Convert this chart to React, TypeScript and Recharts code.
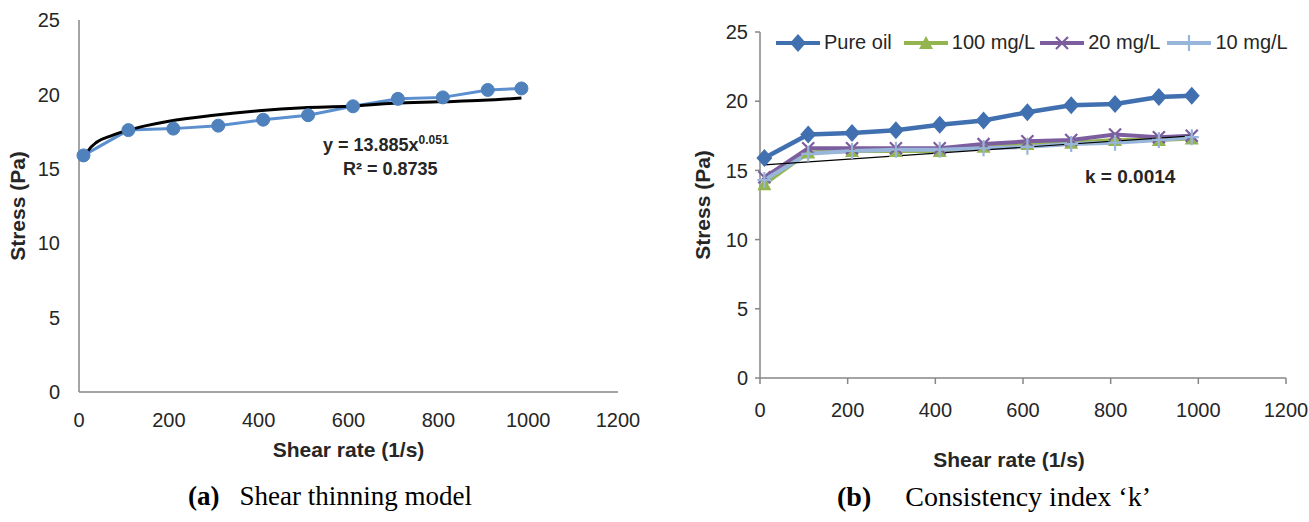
import { LineChart, Line, XAxis, YAxis, Legend } from 'recharts';

// shear rate (1/s) for every measured point
const shearRate = [10, 110, 210, 310, 410, 510, 610, 710, 810, 910, 985];
// stress (Pa)
const pureOil = [15.9, 17.6, 17.7, 17.9, 18.3, 18.6, 19.2, 19.7, 19.8, 20.3, 20.4];
const mg100 = [14.0, 16.3, 16.4, 16.4, 16.4, 16.7, 16.9, 17.0, 17.2, 17.2, 17.3];
const mg20 = [14.5, 16.6, 16.6, 16.6, 16.6, 16.9, 17.1, 17.2, 17.6, 17.4, 17.5];
const mg10 = [14.3, 16.2, 16.4, 16.5, 16.5, 16.6, 16.7, 16.9, 17.0, 17.2, 17.4];

// power-law trendline of (a)
const fitRate = [8, 20, 40, 70, 110, 150, 200, 300, 400, 500, 600, 700, 800, 900, 985];
const fitStress = [15.5, 16.2, 16.8, 17.2, 17.6, 17.9, 18.2, 18.6, 18.9, 19.1, 19.2, 19.4, 19.5, 19.6, 19.75];

// straight k line of (b), its two ends
const kRate = [10, 985];
const kStress = [15.4, 17.5];

const xTicks = [0, 200, 400, 600, 800, 1000, 1200];
const yTicks = [0, 5, 10, 15, 20, 25];

const FONT = "'Liberation Sans', Arial, sans-serif";
const SERIF = "'Liberation Serif', 'Times New Roman', serif";
const AXIS = '#868686';
const TEXT = '#262626';

const C_PURE = '#4170B0';
const C_100 = '#94B450';
const C_20 = '#7C5E9F';
const C_10 = '#98B5DA';

const pointsA = shearRate.map((x, i) => ({ x, y: pureOil[i] }));
const fitA = fitRate.map((x, i) => ({ x, y: fitStress[i] }));
const rowsB = shearRate.map((x, i) => ({ x, pure: pureOil[i], m100: mg100[i], m20: mg20[i], m10: mg10[i] }));
const kLine = kRate.map((x, i) => ({ x, k: kStress[i] }));

const tickStyle = { fill: TEXT, fontSize: 20, fontFamily: FONT };
const titleStyle = { fill: TEXT, fontSize: 21, fontWeight: 700, fontFamily: FONT, textAnchor: 'middle' as const };

const diamond = (cx: number, cy: number) => (
  <path d={`M${cx},${cy - 9}L${cx + 8},${cy}L${cx},${cy + 9}L${cx - 8},${cy}Z`} fill={C_PURE} />
);
const triangle = (cx: number, cy: number) => (
  <path d={`M${cx},${cy - 7}L${cx + 7},${cy + 6}L${cx - 7},${cy + 6}Z`} fill={C_100} />
);
const cross = (cx: number, cy: number) => (
  <path d={`M${cx - 6},${cy - 6}L${cx + 6},${cy + 6}M${cx - 6},${cy + 6}L${cx + 6},${cy - 6}`} stroke={C_20} strokeWidth={2.2} />
);
const plus = (cx: number, cy: number) => (
  <path d={`M${cx},${cy - 8}L${cx},${cy + 8}M${cx - 7},${cy}L${cx + 7},${cy}`} stroke={C_10} strokeWidth={2.2} />
);

// eslint-disable-next-line @typescript-eslint/no-explicit-any
const dotOf = (draw: (cx: number, cy: number) => JSX.Element) => (props: any) => (
  <g key={`m${props.index}`}>{draw(props.cx, props.cy)}</g>
);

const legendItems = [
  { name: 'Pure oil', color: C_PURE, mark: diamond, gap: 11 },
  { name: '100 mg/L', color: C_100, mark: triangle, gap: 4 },
  { name: '20 mg/L', color: C_20, mark: cross, gap: 6 },
  { name: '10 mg/L', color: C_10, mark: plus, gap: 0 },
];

function LegendRow() {
  return (
    <div style={{ display: 'flex', alignItems: 'center', fontFamily: FONT, fontSize: 20, color: TEXT, whiteSpace: 'nowrap' }}>
      {legendItems.map((it) => (
        <div key={it.name} style={{ display: 'flex', alignItems: 'center', marginRight: it.gap }}>
          <svg width={46} height={22} style={{ marginRight: 3 }}>
            <line x1={1} y1={11} x2={45} y2={11} stroke={it.color} strokeWidth={4} />
            {it.mark(23, 11)}
          </svg>
          <span>{it.name}</span>
        </div>
      ))}
    </div>
  );
}

export default function App() {
  return (
    <div style={{ position: 'absolute', left: 0, top: 0, width: 1309, height: 522, background: '#fff', overflow: 'hidden' }}>
      <div style={{ position: 'absolute', left: 0, top: 0 }}>
        <LineChart width={660} height={522} margin={{ top: 20, right: 42, bottom: 100, left: 0 }}>
          <XAxis
            type="number"
            dataKey="x"
            domain={[0, 1200]}
            ticks={xTicks}
            height={30}
            axisLine={{ stroke: AXIS, strokeWidth: 1.5 }}
            tickLine={false}
            tickSize={6}
            tickMargin={15}
            tick={tickStyle}
            label={{ value: 'Shear rate (1/s)', position: 'bottom', offset: 20, style: titleStyle }}
          />
          <YAxis
            type="number"
            domain={[0, 25]}
            ticks={yTicks}
            width={79}
            axisLine={{ stroke: AXIS, strokeWidth: 1.5 }}
            tickLine={false}
            tickSize={6}
            tickMargin={13}
            tick={tickStyle}
            label={{ value: 'Stress (Pa)', angle: -90, position: 'insideLeft', offset: 18, style: titleStyle }}
          />
          <Line
            data={pointsA}
            dataKey="y"
            stroke="#5B8FCF"
            strokeWidth={3}
            dot={{ r: 6.5, fill: '#4F81BD', stroke: '#4F81BD', strokeWidth: 1 }}
            isAnimationActive={false}
          />
          <Line data={fitA} dataKey="y" type="monotone" stroke="#000" strokeWidth={3} dot={false} isAnimationActive={false} />
        </LineChart>
      </div>

      <div style={{ position: 'absolute', left: 680, top: 0 }}>
        <LineChart width={629} height={522} data={rowsB} margin={{ top: 32, right: 23, bottom: 114, left: 0 }}>
          <XAxis
            type="number"
            dataKey="x"
            domain={[0, 1200]}
            ticks={xTicks}
            height={30}
            axisLine={{ stroke: AXIS, strokeWidth: 1.5 }}
            tickLine={{ stroke: AXIS, strokeWidth: 1.5 }}
            tickSize={6}
            tickMargin={19}
            tick={tickStyle}
            label={{ value: 'Shear rate (1/s)', position: 'bottom', offset: 44, dx: -14, style: titleStyle }}
          />
          <YAxis
            type="number"
            domain={[0, 25]}
            ticks={yTicks}
            width={80}
            axisLine={{ stroke: AXIS, strokeWidth: 1.5 }}
            tickLine={{ stroke: AXIS, strokeWidth: 1.5 }}
            tickSize={5}
            tickMargin={7}
            tick={tickStyle}
            label={{ value: 'Stress (Pa)', angle: -90, position: 'insideLeft', offset: 23, style: titleStyle }}
          />
          <Legend
            layout="vertical"
            align="center"
            verticalAlign="middle"
            content={() => <LegendRow />}
            wrapperStyle={{ left: 95, top: 31, width: 'auto' }}
          />
          <Line dataKey="pure" name="Pure oil" stroke={C_PURE} strokeWidth={4.5} dot={dotOf(diamond)} isAnimationActive={false} />
          <Line dataKey="m100" name="100 mg/L" stroke={C_100} strokeWidth={4} dot={dotOf(triangle)} isAnimationActive={false} />
          <Line dataKey="m20" name="20 mg/L" stroke={C_20} strokeWidth={4} dot={dotOf(cross)} isAnimationActive={false} />
          <Line dataKey="m10" name="10 mg/L" stroke={C_10} strokeWidth={4} dot={dotOf(plus)} isAnimationActive={false} />
          <Line data={kLine} dataKey="k" stroke="#000" strokeWidth={1.2} dot={false} legendType="none" isAnimationActive={false} />
        </LineChart>
      </div>

      <div style={{ position: 'absolute', left: 323, top: 133, fontFamily: FONT, fontSize: 18, fontWeight: 700, color: TEXT, whiteSpace: 'nowrap' }}>
        y = 13.885x<sup style={{ fontSize: 12 }}>0.051</sup>
      </div>
      <div style={{ position: 'absolute', left: 343, top: 159, fontFamily: FONT, fontSize: 18, fontWeight: 700, color: TEXT, whiteSpace: 'nowrap' }}>
        R² = 0.8735
      </div>
      <div style={{ position: 'absolute', left: 1085, top: 166, fontFamily: FONT, fontSize: 19, fontWeight: 700, color: TEXT, whiteSpace: 'nowrap' }}>
        k = 0.0014
      </div>

      <div style={{ position: 'absolute', left: 188, top: 481, fontFamily: SERIF, fontSize: 27, color: '#000', whiteSpace: 'nowrap' }}>
        <b>(a)</b>
        <span style={{ marginLeft: 20 }}>Shear thinning model</span>
      </div>
      <div style={{ position: 'absolute', left: 837, top: 481, fontFamily: SERIF, fontSize: 28, color: '#000', whiteSpace: 'nowrap' }}>
        <b>(b)</b>
        <span style={{ marginLeft: 34 }}>Consistency index ‘k’</span>
      </div>
    </div>
  );
}
